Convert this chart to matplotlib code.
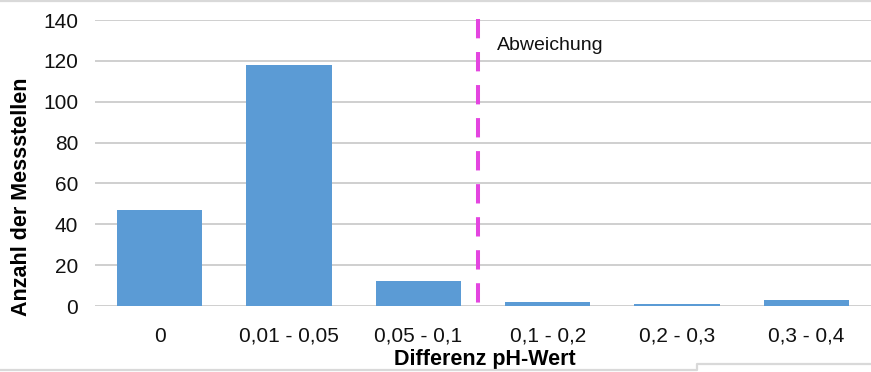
import matplotlib
matplotlib.use("Agg")
import matplotlib.pyplot as plt
from matplotlib.lines import Line2D

plt.rcParams['font.family'] = ['Liberation Sans', 'DejaVu Sans']

categories = ["0", "0,01 - 0,05", "0,05 - 0,1", "0,1 - 0,2", "0,2 - 0,3", "0,3 - 0,4"]
counts = [47, 118, 12, 2, 1, 3]
y_ticks = [0, 20, 40, 60, 80, 100, 120, 140]
threshold_pos = 2.465
threshold_label = "Abweichung"
x_title = "Differenz pH-Wert"
y_title = "Anzahl der Messstellen"

W, H = 871, 372
fig = plt.figure(figsize=(W / 100, H / 100), dpi=100)
ax = fig.add_axes([95 / W, 66 / H, (W - 95) / W, 286 / H])

x = list(range(len(categories)))
ax.bar(x, counts, width=0.66, color="#5B9BD5", zorder=3)

ax.set_xlim(-0.5, len(categories) - 0.5)
ax.set_ylim(0, 140)
ax.set_yticks(y_ticks)
ax.set_xticks(x)
ax.set_xticklabels(categories)
ax.yaxis.grid(True, color="#cccccc", linewidth=1.3, zorder=0)
ax.set_axisbelow(True)
for s in ax.spines.values():
    s.set_visible(False)
ax.tick_params(axis="both", length=0, labelsize=15, colors="#111111")
ax.tick_params(axis="y", pad=12)
ax.tick_params(axis="x", pad=15)

# threshold marker between the third and fourth class
ax.plot([threshold_pos, threshold_pos], [140.5, -3.5], color="#E445E0",
        linewidth=2.9, dashes=(4.8, 3.4), clip_on=False, zorder=4,
        solid_capstyle="butt", dash_capstyle="butt")
ax.text(threshold_pos + 0.14, 127.5, threshold_label, fontsize=14,
        ha="left", va="center", color="#111111")

ax.set_xlabel(x_title, fontsize=15.5, fontweight="bold")
ax.set_ylabel(y_title, fontsize=15.5, fontweight="bold")
ax.xaxis.set_label_coords((485 - 95) / (W - 95), -(349 - 306) / 286)
ax.yaxis.set_label_coords(-(95 - 32) / (W - 95), (306 - 197) / 286)

# frame lines around the chart
frame_c = "#d9d9d9"
fig.add_artist(Line2D([0, 1], [1 - 1.2 / H, 1 - 1.2 / H], color=frame_c,
                      linewidth=1.6, transform=fig.transFigure))
fig.add_artist(Line2D([0, 697 / W, 697 / W, 1],
                      [2 / H, 2 / H, 8 / H, 8 / H], color=frame_c,
                      linewidth=1.6, transform=fig.transFigure))

fig.savefig("out.png", dpi=100)
